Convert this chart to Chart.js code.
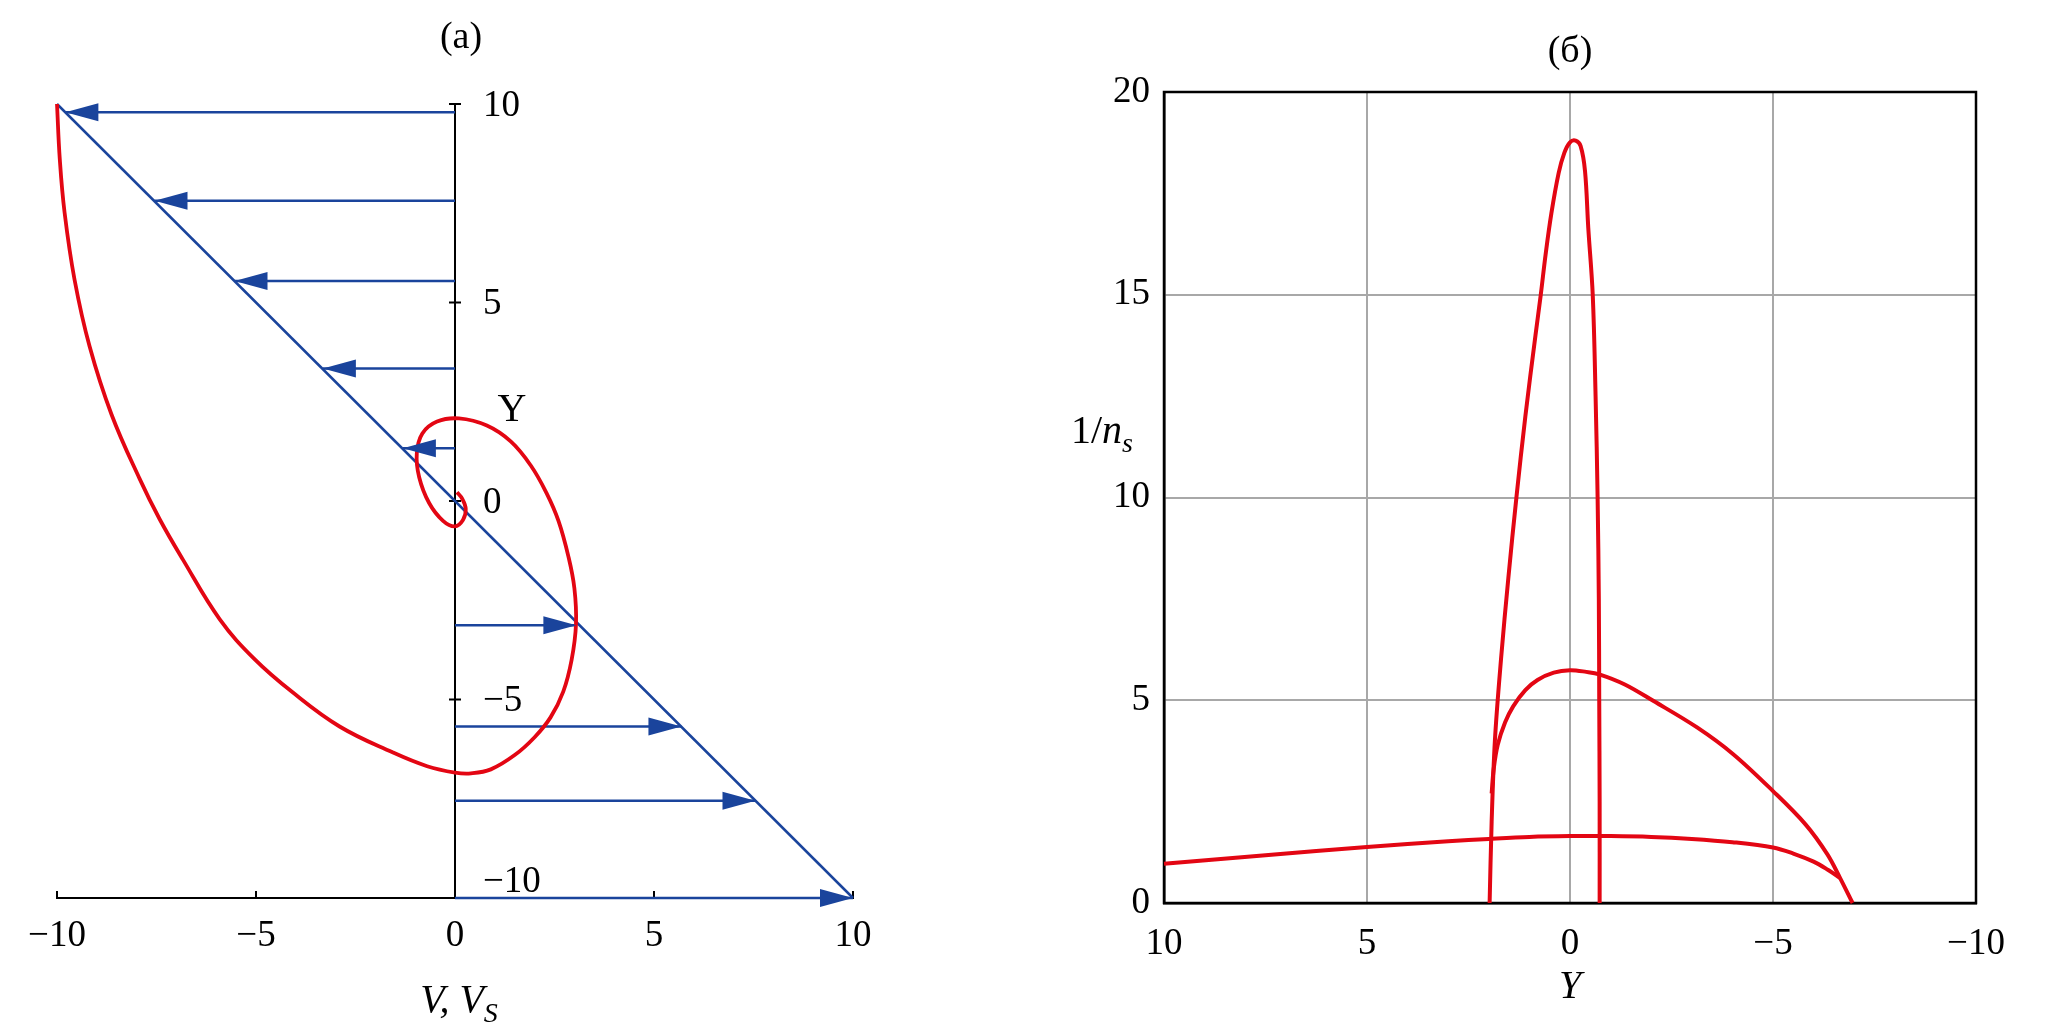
<!DOCTYPE html>
<html>
<head>
<meta charset="utf-8">
<script src="https://cdn.jsdelivr.net/npm/chart.js@4"></script>
<style>
	html, body { margin: 0; padding: 0; background: #fff; }
	#wrap { position: relative; width: 2067px; height: 1033px; }
	#boxA { position: absolute; left: 0; top: 0; width: 1000px; height: 1033px; }
	#boxB { position: absolute; left: 1000px; top: 0; width: 1067px; height: 1033px; }
</style>
</head>
<body>
<div id="wrap">
	<div id="boxA"><canvas id="chartA"></canvas></div>
	<div id="boxB"><canvas id="chartB"></canvas></div>
</div>
<script>
const SERIF = '"Liberation Serif", "Times New Roman", serif';
const RED = '#e30613';
const BLUE = '#1a449c';
const GRID = '#a8a8a8';

Chart.defaults.font.family = SERIF;
Chart.defaults.color = '#000';

// ---- panel (а): velocity profile ----
const titleA = '(а)';
const vTicks = [-10, -5, 0, 5, 10];
const yTicksA = [10, 5, 0, -5, -10];
const diagV = [-10, 10];
const diagY = [10, -10];
// arrows start on the Y axis (V = 0) and end at the tip
const arrowY = [9.79, 7.56, 5.54, 3.34, 1.33, -3.13, -5.68, -7.55, -10];
const arrowV = [-9.79, -7.55, -5.54, -3.32, -1.31, 3.05, 5.69, 7.55, 10];
// red V_S curve
const loopV = [-10, -9.93, -9.81, -9.56, -9.18, -8.63, -7.92, -7.42, -6.84, -5.91, -5.03, -4.08, -2.9, -1.57, -0.7,
	0.0, 0.4, 0.9, 1.5, 2.0, 2.4, 2.72, 2.93, 3.04, 3.0, 2.85, 2.6, 2.3, 1.9, 1.4, 0.8, 0.1,
	-0.45, -0.82, -0.96, -0.9, -0.65, -0.3, 0.0, 0.2, 0.27, 0.18, 0.05];
const loopY = [10, 8.61, 7.27, 5.58, 3.89, 2.18, 0.55, -0.46, -1.47, -2.98, -3.99, -4.82, -5.68, -6.33, -6.68,
	-6.84, -6.86, -6.76, -6.4, -5.95, -5.45, -4.8, -4.0, -3.1, -2.2, -1.4, -0.5, 0.2, 0.9, 1.5, 1.9, 2.08,
	2.0, 1.7, 1.2, 0.6, -0.05, -0.5, -0.64, -0.48, -0.2, 0.06, 0.22];

// ---- panel (б): 1/n_s against Y ----
const titleB = '(б)';
const peakY = [1.98, 1.93, 1.85, 1.7, 1.52, 1.32, 1.1, 0.85, 0.72, 0.6, 0.46, 0.28, 0.14, 0.0,
	-0.14, -0.26, -0.37, -0.45, -0.56, -0.63, -0.68, -0.71, -0.72, -0.73, -0.73];
const peakN = [0, 2, 4, 6, 8, 10, 12, 14, 15, 16, 17, 18, 18.5, 18.76,
	18.8, 18.67, 18.05, 16.65, 15.0, 12.5, 10.0, 7.5, 5.0, 2.5, 0];
const archY = [1.93, 1.88, 1.78, 1.6, 1.4, 1.1, 0.8, 0.4, 0.0, -0.4, -0.72, -1.35, -2.06, -3.13, -4.02, -5.0, -5.8, -6.34, -6.65, -6.96];
const archN = [2.7, 3.3, 3.9, 4.45, 4.85, 5.25, 5.5, 5.68, 5.74, 5.7, 5.64, 5.39, 4.98, 4.33, 3.67, 2.76, 1.94, 1.2, 0.62, 0];
const flatY = [10, 7.5, 5, 3, 2, 1, 0, -1, -2, -3, -4, -5, -5.5, -6, -6.35, -6.65];
const flatN = [0.97, 1.18, 1.38, 1.52, 1.58, 1.63, 1.65, 1.65, 1.63, 1.58, 1.5, 1.37, 1.22, 1.02, 0.82, 0.62];


function pts(xs, ys) {
	return xs.map((x, i) => ({x: x, y: ys[i]}));
}

// minus sign like in the printed figure
function fmt(v) {
	return v < 0 ? '\u2212' + Math.abs(v) : String(v);
}

function line(data, color, width, tension) {
	return {
		data: data,
		showLine: true,
		borderColor: color,
		borderWidth: width,
		pointRadius: 0,
		tension: tension,
		clip: false
	};
}

// draw a run of text pieces (for subscripts), centred or from the left
function drawPieces(ctx, pieces, x, baseline, centred) {
	let total = 0;
	pieces.forEach(p => { ctx.font = p.font; p.w = ctx.measureText(p.t).width; total += p.w; });
	let cx = centred ? x - total / 2 : x;
	ctx.textAlign = 'left';
	ctx.textBaseline = 'alphabetic';
	pieces.forEach(p => {
		ctx.font = p.font;
		ctx.fillText(p.t, cx, baseline + (p.dy || 0));
		cx += p.w;
	});
}

const panelAExtras = {
	id: 'panelAExtras',
	beforeDatasetsDraw(chart) {
		const {ctx, scales: {x, y}} = chart;
		const x0 = x.getPixelForValue(0);
		const yb = y.getPixelForValue(-10);
		ctx.save();
		ctx.strokeStyle = '#000';
		ctx.lineWidth = 2;
		ctx.beginPath();
		ctx.moveTo(x0, y.getPixelForValue(10));
		ctx.lineTo(x0, yb);
		yTicksA.forEach(v => {
			if (v === -10) return;
			const py = y.getPixelForValue(v);
			ctx.moveTo(x0 - 6, py);
			ctx.lineTo(x0 + 6, py);
		});
		vTicks.forEach(v => {
			if (v === 0) return;
			const px = x.getPixelForValue(v);
			ctx.moveTo(px, yb);
			ctx.lineTo(px, yb - 7);
		});
		ctx.stroke();
		ctx.restore();
	},
	afterDatasetsDraw(chart) {
		const {ctx, scales: {x, y}} = chart;
		const x0 = x.getPixelForValue(0);
		const yb = y.getPixelForValue(-10);
		ctx.save();

		// arrow heads
		ctx.fillStyle = BLUE;
		arrowY.forEach((lvl, i) => {
			const tx = x.getPixelForValue(arrowV[i]);
			const ty = y.getPixelForValue(lvl);
			const dir = arrowV[i] > 0 ? 1 : -1;
			ctx.beginPath();
			ctx.moveTo(tx, ty);
			ctx.lineTo(tx - dir * 33, ty - 9);
			ctx.lineTo(tx - dir * 33, ty + 9);
			ctx.closePath();
			ctx.fill();
		});

		// Y tick labels to the right of the axis
		ctx.fillStyle = '#000';
		ctx.font = '37px ' + SERIF;
		ctx.textAlign = 'left';
		ctx.textBaseline = 'middle';
		yTicksA.forEach(v => {
			let py = y.getPixelForValue(v);
			if (v === -10) py -= 18;
			ctx.fillText(fmt(v), x0 + 28, py + 2);
		});

		ctx.font = '40px ' + SERIF;
		ctx.textAlign = 'center';
		ctx.textBaseline = 'alphabetic';
		ctx.fillText('Y', x0 + 57, y.getPixelForValue(0) - 80);

		drawPieces(ctx, [
			{t: 'V, V', font: 'italic 40px ' + SERIF},
			{t: 'S', font: 'italic 28px ' + SERIF, dy: 10}
		], x0 + 4, yb + 114, true);

		ctx.font = '38px ' + SERIF;
		ctx.textAlign = 'center';
		ctx.textBaseline = 'middle';
		ctx.fillText(titleA, x0 + 6, 38);
		ctx.restore();
	}
};

const panelBExtras = {
	id: 'panelBExtras',
	beforeDatasetsDraw(chart) {
		const {ctx, chartArea: a} = chart;
		ctx.save();
		ctx.strokeStyle = '#000';
		ctx.lineWidth = 2.5;
		ctx.strokeRect(a.left, a.top, a.right - a.left, a.bottom - a.top);
		ctx.restore();
	},
	afterDraw(chart) {
		const {ctx, chartArea: a} = chart;
		const cx = (a.left + a.right) / 2;
		ctx.save();
		ctx.fillStyle = '#000';
		drawPieces(ctx, [
			{t: '1/', font: '40px ' + SERIF},
			{t: 'n', font: 'italic 40px ' + SERIF},
			{t: 's', font: 'italic 28px ' + SERIF, dy: 9}
		], a.left - 93, a.top + 351, false);

		ctx.font = 'italic 40px ' + SERIF;
		ctx.textAlign = 'center';
		ctx.textBaseline = 'alphabetic';
		ctx.fillText('Y', cx, a.bottom + 95);

		ctx.font = '38px ' + SERIF;
		ctx.textBaseline = 'middle';
		ctx.fillText(titleB, cx, 52);
		ctx.restore();
	}
};

const tickFont = {size: 37, family: SERIF};

new Chart(document.getElementById('chartA'), {
	type: 'scatter',
	data: {
		datasets: [
			line(pts(loopV, loopY), RED, 3.8, 0.4),
			line(pts(diagV, diagY), BLUE, 2.5, 0)
		].concat(arrowY.map((lvl, i) => line([{x: 0, y: lvl}, {x: arrowV[i], y: lvl}], BLUE, 2.5, 0)))
	},
	options: {
		responsive: true,
		maintainAspectRatio: false,
		animation: false,
		events: [],
		layout: {padding: {left: 57, right: 147, top: 104, bottom: 65}},
		plugins: {legend: {display: false}, tooltip: {enabled: false}},
		scales: {
			x: {
				type: 'linear',
				min: -10,
				max: 10,
				grid: {display: false, drawTicks: false},
				border: {display: true, color: '#000', width: 2},
				ticks: {stepSize: 5, padding: 16, font: tickFont, maxRotation: 0, callback: v => fmt(v)},
				afterFit: s => { s.height = 70; }
			},
			y: {type: 'linear', min: -10, max: 10, display: false}
		}
	},
	plugins: [panelAExtras]
});

new Chart(document.getElementById('chartB'), {
	type: 'scatter',
	data: {
		datasets: [
			line(pts(peakY, peakN), RED, 4, 0.35),
			line(pts(archY, archN), RED, 4, 0.35),
			line(pts(flatY, flatN), RED, 4, 0.35)
		]
	},
	options: {
		responsive: true,
		maintainAspectRatio: false,
		animation: false,
		events: [],
		layout: {padding: {left: 104, right: 91, top: 92, bottom: 60}},
		plugins: {legend: {display: false}, tooltip: {enabled: false}},
		scales: {
			x: {
				type: 'linear',
				min: -10,
				max: 10,
				reverse: true,
				grid: {color: GRID, lineWidth: 2, drawTicks: false},
				border: {display: true, color: '#000', width: 2.5},
				ticks: {stepSize: 5, padding: 19, font: tickFont, maxRotation: 0, callback: v => fmt(v)},
				afterFit: s => { s.height = 70; }
			},
			y: {
				type: 'linear',
				min: 0,
				max: 20,
				grid: {color: GRID, lineWidth: 2, drawTicks: false},
				border: {display: true, color: '#000', width: 2.5},
				ticks: {stepSize: 5, padding: 14, font: tickFont, callback: v => fmt(v)},
				afterFit: s => { s.width = 60; }
			}
		}
	},
	plugins: [panelBExtras]
});
</script>
</body>
</html>
